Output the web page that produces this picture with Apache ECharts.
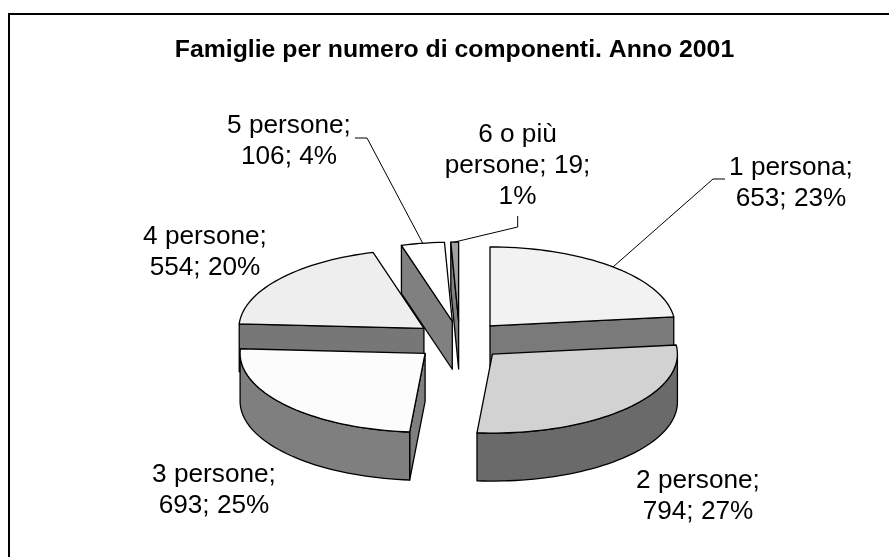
<!DOCTYPE html>
<html>
<head>
<meta charset="utf-8">
<style>
html, body { margin: 0; padding: 0; background: #fff; }
#main { width: 889px; height: 557px; }
</style>
<script src="https://cdn.jsdelivr.net/npm/echarts@6/dist/echarts.min.js"></script>
</head>
<body>
<div id="main"></div>
<script>
const categories = ['1 persona', '2 persone', '3 persone', '4 persone', '5 persone', '6 o più persone'];
const families = [653, 794, 693, 554, 106, 19];
const percents = [23, 27, 25, 20, 4, 1];

// label text is broken the same way as in the picture
const labelLines = [
  ['1 persona;', '653; 23%'],
  ['2 persone;', '794; 27%'],
  ['3 persone;', '693; 25%'],
  ['4 persone;', '554; 20%'],
  ['5 persone;', '106; 4%'],
  ['6 o più', 'persone; 19;', '1%']
];

// styles and layout
const topColors = ['#f2f2f2', '#d2d2d2', '#fcfcfc', '#eeeeee', '#ffffff', '#a0a0a0'];
const wallColors = ['#7a7a7a', '#6a6a6a', '#7f7f7f', '#777777', '#808080', '#808080'];
const labelPos = [[791, 183], [698, 496.5], [214, 490.5], [205, 252.5], [289, 141], [517.5, 165.7]];
const leaderElbows = [
  [[725, 179], [713, 179]],
  null,
  null,
  null,
  [[355, 138], [367, 138]],
  [[517.7, 216], [517.7, 227]]
];
const drawOrder = [5, 4, 3, 0, 2, 1];

const cx = 459.6, cy = 340.5, rx = 185, ry = 79, depth = 48, explode = 0.247;
const total = families.reduce(function (a, b) { return a + b; }, 0);
const rad = Math.PI / 180;

function startAngle(i) {
  let sum = 0;
  for (let k = 0; k < i; k++) sum += families[k];
  return sum / total * 360;
}

function arcPoints(ox, oy, from, to, dy) {
  const pts = [];
  const steps = Math.max(2, Math.ceil((to - from) / 2));
  for (let s = 0; s <= steps; s++) {
    const a = (from + (to - from) * s / steps) * rad;
    pts.push([ox + rx * Math.sin(a), oy - ry * Math.cos(a) + dy]);
  }
  return pts;
}

function face(points, color) {
  return {
    type: 'polygon',
    shape: { points: points },
    style: { fill: color, stroke: '#000', lineWidth: 1.3, lineJoin: 'round' }
  };
}

function renderSlice(params, api) {
  const i = api.value(0);
  const a0 = startAngle(i);
  const a1 = a0 + api.value(1) / total * 360;
  const mid = (a0 + a1) / 2 * rad;
  const ox = cx + explode * rx * Math.sin(mid);
  const oy = cy - explode * ry * Math.cos(mid);
  const children = [];

  const p0 = arcPoints(ox, oy, a0, a0, 0)[0];
  const p1 = arcPoints(ox, oy, a1, a1, 0)[0];

  // cut faces that look towards the viewer
  if (Math.sin(a0 * rad) < -1e-6) {
    children.push(face([[ox, oy], p0, [p0[0], p0[1] + depth], [ox, oy + depth]], wallColors[i]));
  }
  if (Math.sin(a1 * rad) > 1e-6) {
    children.push(face([[ox, oy], p1, [p1[0], p1[1] + depth], [ox, oy + depth]], wallColors[i]));
  }

  // outer wall, only the front half of the ellipse shows
  const w0 = Math.max(a0, 90), w1 = Math.min(a1, 270);
  if (w1 > w0) {
    const upper = arcPoints(ox, oy, w0, w1, 0);
    const lower = arcPoints(ox, oy, w0, w1, depth).reverse();
    children.push(face(upper.concat(lower), wallColors[i]));
  }

  children.push(face([[ox, oy]].concat(arcPoints(ox, oy, a0, a1, 0)), topColors[i]));

  // leader line
  if (leaderElbows[i]) {
    const anchor = [ox + rx * Math.sin(mid), oy - ry * Math.cos(mid)];
    children.push({
      type: 'polyline',
      shape: { points: leaderElbows[i].concat([anchor]) },
      style: { fill: 'none', stroke: '#000', lineWidth: 1 }
    });
  }

  children.push({
    type: 'text',
    style: {
      text: labelLines[i].join('\n'),
      x: labelPos[i][0],
      y: labelPos[i][1],
      align: 'center',
      verticalAlign: 'middle',
      fontFamily: 'Liberation Sans',
      fontSize: 26.2,
      lineHeight: 31,
      fill: '#000'
    }
  });

  return { type: 'group', children: children };
}

const myChart = echarts.init(document.getElementById('main'));
myChart.setOption({
  animation: false,
  backgroundColor: '#fff',
  title: {
    text: 'Famiglie per numero di componenti. Anno 2001',
    left: 449.5,
    top: 33,
    textAlign: 'center',
    textStyle: { fontFamily: 'Liberation Sans', fontWeight: 'bold', fontSize: 24.8, color: '#000' }
  },
  // only the top and left edge of the frame are in the picture
  graphic: [{
    type: 'polyline',
    shape: { points: [[9, 557], [9, 14], [889, 14]] },
    style: { fill: 'none', stroke: '#000', lineWidth: 2 },
    z: -1
  }],
  series: [{
    type: 'custom',
    coordinateSystem: 'none',
    renderItem: renderSlice,
    data: drawOrder.map(function (i) { return [i, families[i], categories[i], percents[i]]; })
  }]
});
</script>
</body>
</html>
